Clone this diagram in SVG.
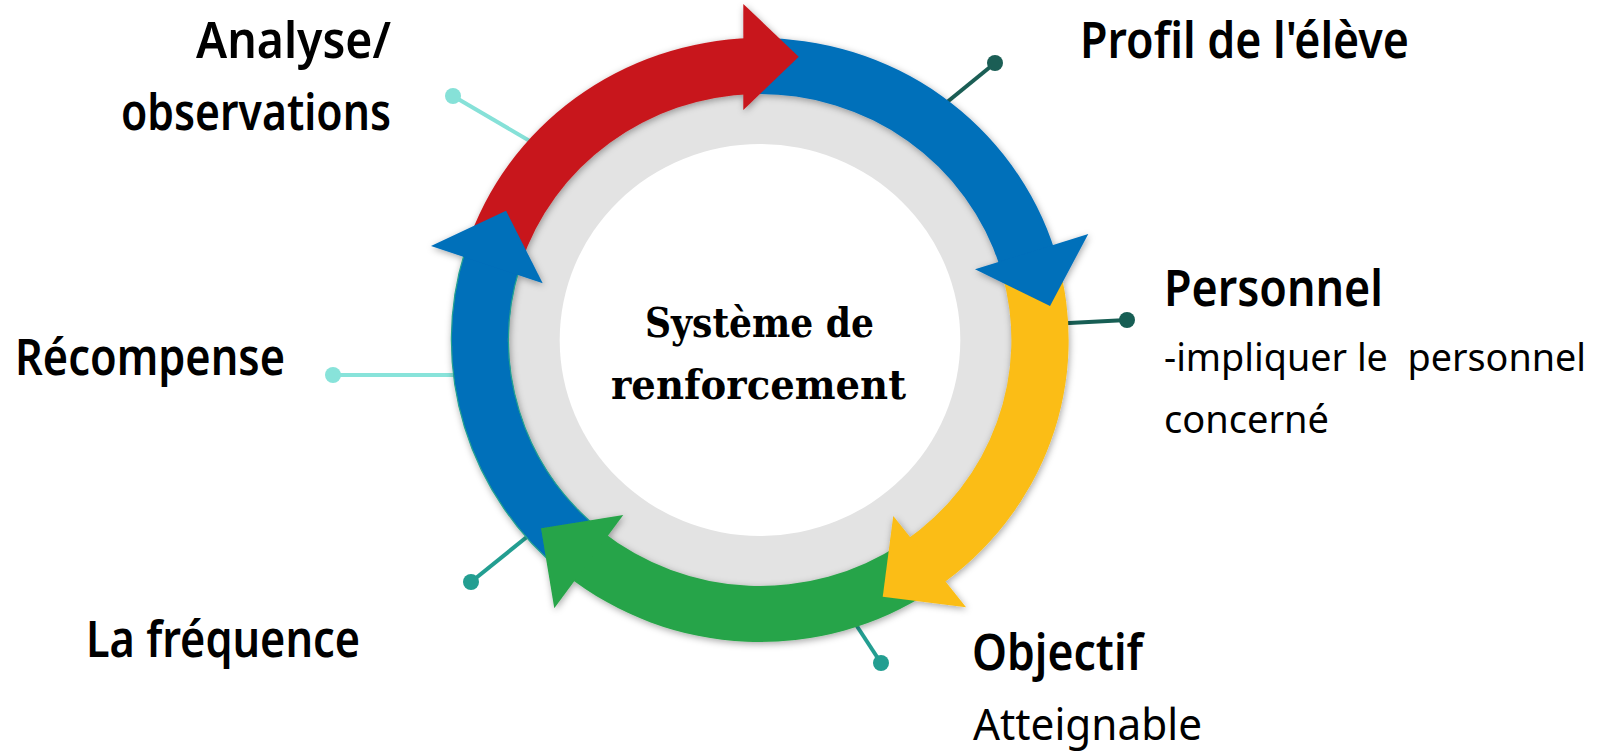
<svg xmlns="http://www.w3.org/2000/svg" width="1612" height="752" viewBox="0 0 1612 752">
  <defs>
    <style>
      .lbl { font-family: "Noto Sans", "Open Sans", sans-serif; font-weight: 600; font-size: 50px; fill: #000; }
      .sub { font-family: "Noto Sans", "Open Sans", sans-serif; font-weight: 400; font-size: 39px; fill: #000; white-space: pre; }
      .ctr { font-family: "DejaVu Serif", "Liberation Serif", serif; font-weight: bold; font-size: 41px; fill: #000; }
      .ln { stroke-width: 4; fill: none; }
    </style>
    <filter id="sh" x="-20%" y="-20%" width="140%" height="140%">
      <feDropShadow dx="1" dy="2" stdDeviation="3.5" flood-color="#000" flood-opacity="0.35"/>
    </filter>
  </defs>
  <rect width="1612" height="752" fill="#fff"/>

  <g id="connectors">
    <line class="ln" x1="453" y1="96" x2="540" y2="147" stroke="#86e1d8"/>
    <circle cx="453" cy="96" r="8" fill="#86e1d8"/>
    <line class="ln" x1="333" y1="375" x2="472" y2="375" stroke="#88e3da"/>
    <circle cx="333" cy="375" r="8" fill="#88e3da"/>
    <line class="ln" x1="995" y1="63" x2="930" y2="116" stroke="#1b5e55"/>
    <circle cx="995" cy="63" r="8" fill="#1b5e55"/>
    <line class="ln" x1="1127" y1="320" x2="1050" y2="324" stroke="#175e54"/>
    <circle cx="1127" cy="320" r="8" fill="#175e54"/>
    <line class="ln" x1="471" y1="582" x2="538" y2="528" stroke="#239e91"/>
    <circle cx="471" cy="582" r="8" fill="#239e91"/>
    <line class="ln" x1="881" y1="663" x2="849" y2="614" stroke="#239e91"/>
    <circle cx="881" cy="663" r="8" fill="#239e91"/>
  </g>

  <g id="cycle" transform="translate(760,340) scale(1.022,1)">
    <circle r="280" fill="#e3e3e3"/>
    <circle r="196" fill="#fff"/>
    <g filter="url(#sh)">
      <path id="band-red" fill="#c8171b" d="M-287.22,-93.32 A302,302 0 0 1 -7.91,-301.90 L-6.44,-245.92 A246,246 0 0 0 -233.96,-76.02 Z"/>
      <path id="band-blue1" fill="#006fba" d="M-5.27,-301.95 A302,302 0 0 1 288.80,-88.30 L235.25,-71.92 A246,246 0 0 0 -4.29,-245.96 Z"/>
      <path id="band-yellow" fill="#fbbd13" d="M290.30,-83.24 A302,302 0 0 1 173.22,247.38 L141.10,201.51 A246,246 0 0 0 236.47,-67.81 Z"/>
      <path id="band-green" fill="#28a448" d="M168.88,250.37 A302,302 0 0 1 -190.05,234.70 L-154.81,191.18 A246,246 0 0 0 137.56,203.94 Z"/>
      <path id="band-blue2" fill="#006fba" stroke="#22a090" stroke-width="1.2" d="M-192.10,233.03 A302,302 0 0 1 -288.80,-88.30 L-235.25,-71.92 A246,246 0 0 0 -156.48,189.82 Z"/>
      <polygon id="head-red" fill="#c8171b" points="-16.3,-336 37.9,-283.3 -16.3,-230"/>
      <polygon id="head-blue1" fill="#006fba" points="321.2,-106 283.8,-34 210.4,-70.7"/>
      <polygon id="head-yellow" fill="#fbbd13" points="201.6,267.3 120.1,256.7 130.4,176"/>
      <polygon id="head-green" fill="#28a448" points="-201.3,268.3 -214.3,188.3 -133.8,175"/>
      <polygon id="head-blue2" fill="#006fba" points="-321.9,-94 -248.5,-129.3 -212.6,-56.7"/>
    </g>
  </g>

  <g id="center-label">
    <text class="ctr" x="645" y="337" textLength="229" lengthAdjust="spacingAndGlyphs">Système de</text>
    <text class="ctr" x="611" y="399" textLength="295" lengthAdjust="spacingAndGlyphs">renforcement</text>
  </g>

  <g id="node-analyse">
    <text class="lbl" x="196" y="58" textLength="195" lengthAdjust="spacingAndGlyphs">Analyse/</text>
    <text class="lbl" x="121" y="130" textLength="270" lengthAdjust="spacingAndGlyphs">observations</text>
  </g>
  <g id="node-profil">
    <text class="lbl" x="1080" y="58" textLength="329" lengthAdjust="spacingAndGlyphs">Profil de l'élève</text>
  </g>
  <g id="node-personnel">
    <text class="lbl" x="1164" y="306" textLength="219" lengthAdjust="spacingAndGlyphs">Personnel</text>
    <text class="sub" x="1164" y="371" textLength="422" lengthAdjust="spacingAndGlyphs">-impliquer le  personnel</text>
    <text class="sub" x="1164" y="433" textLength="165" lengthAdjust="spacingAndGlyphs">concerné</text>
  </g>
  <g id="node-objectif">
    <text class="lbl" x="972" y="670" textLength="171" lengthAdjust="spacingAndGlyphs">Objectif</text>
    <text class="sub" x="973" y="740" style="font-size:44px" textLength="229" lengthAdjust="spacingAndGlyphs">Atteignable</text>
  </g>
  <g id="node-frequence">
    <text class="lbl" x="86" y="657" textLength="274" lengthAdjust="spacingAndGlyphs">La fréquence</text>
  </g>
  <g id="node-recompense">
    <text class="lbl" x="15" y="375" textLength="270" lengthAdjust="spacingAndGlyphs">Récompense</text>
  </g>
</svg>
